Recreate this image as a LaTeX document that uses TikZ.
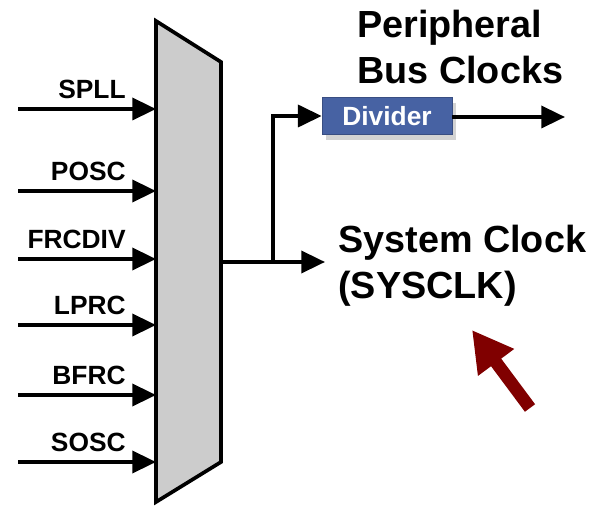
\documentclass[tikz,border=0pt]{standalone}
\usepackage{fontspec}
\setmainfont{Liberation Sans}
\usetikzlibrary{arrows.meta, shadows, positioning}
\definecolor{muxgray}{HTML}{CCCCCC}
\definecolor{dividerblue}{HTML}{4762A3}
\definecolor{pointerred}{rgb}{0.5, 0.0, 0.0}

\tikzset{
    wire/.style={line width=2.1pt},
    inarrow/.style={wire, -{Triangle[length=13.5pt, width=12.5pt]}},
    inlabel/.style={anchor=base east, inner sep=0pt, font=\fontsize{15}{18}\selectfont\bfseries},
    biglabel/.style={anchor=north west, inner sep=0pt, align=left, font=\fontsize{21.5}{26}\selectfont\bfseries},
    dividerbox/.style={fill=dividerblue, draw=dividerblue!80!black, line width=0.4pt, text=white,
        minimum width=2.6cm, minimum height=0.74cm, inner sep=0pt,
        font=\fontsize{15}{18}\selectfont\bfseries,
        drop shadow={shadow xshift=2pt, shadow yshift=-3pt, opacity=0.35}}
}

\begin{document}
\begin{tikzpicture}[x=0.02cm, y=-0.02cm]
\useasboundingbox (0,0) rectangle (592,506);

% Clock source multiplexer
\fill[muxgray] (156,21) -- (221,62) -- (221,462) -- (156,502) -- cycle;
\draw[wire, line join=miter] (156,21) -- (221,62) -- (221,462) -- (156,502) -- cycle;

% Clock source inputs
\foreach \src/\y in {SPLL/109, POSC/191, FRCDIV/259, LPRC/325, BFRC/395, SOSC/462} {
    \coordinate (in-\src) at (18,\y);
    \coordinate (mux-\src) at (156,\y);
    \node[inlabel] (lbl-\src) at (126,\y-10) {\src};
    \draw[inarrow] (in-\src) -- (mux-\src);
}

% Outputs
\coordinate (mux-out) at (221,262);
\coordinate (branch) at (273,262);
\coordinate (sysclk-in) at (325,262);
\node[dividerbox] (divider) at (387,116) {Divider};
\coordinate (pb-out) at (565,117);

\draw[wire] (mux-out) -- (branch);
\draw[inarrow] (branch) -- (sysclk-in);
\draw[inarrow] (branch) |- (divider.west);
\draw[inarrow] (divider.east |- pb-out) -- (pb-out);

% Text labels
\node[biglabel] (pbclk) at (357,10) {Peripheral\\Bus Clocks};
\node[biglabel] (sysclk) at (338,225) {System Clock\\(SYSCLK)};

% Pointer arrow
\coordinate (ptr-tail) at (530,408);
\coordinate (ptr-tip) at (472,330);
\draw[pointerred, line width=7.2pt, -{Triangle[length=23pt, width=24pt]}] (ptr-tail) -- (ptr-tip);
\end{tikzpicture}
\end{document}
